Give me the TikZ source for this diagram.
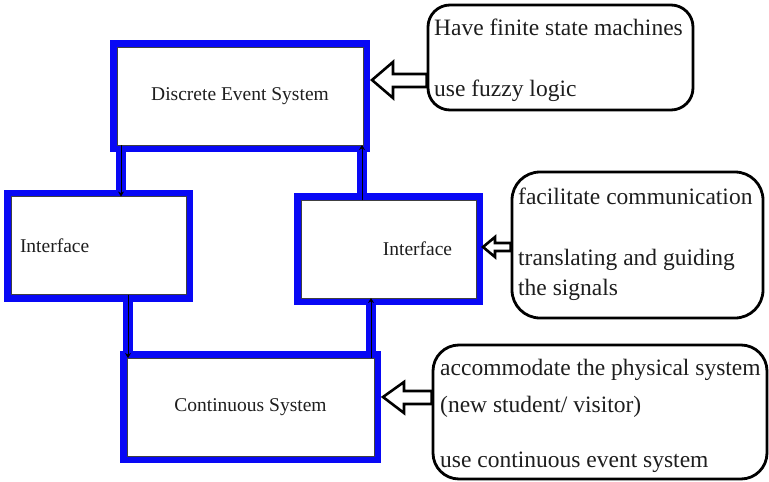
\documentclass[tikz,border=0pt]{standalone}
\usepackage{fontspec}
\setmainfont{Liberation Serif}
\usetikzlibrary{backgrounds,calc,arrows.meta}
\definecolor{frameblue}{RGB}{8,8,245}
\definecolor{inkgray}{RGB}{30,30,30}
\tikzset{
  sysbox/.style={draw=black!75, line width=0.6pt, fill=white, inner sep=0pt,
    outer sep=0pt, minimum height=98pt, text=inkgray,
    font=\fontsize{19.5}{22}\selectfont},
  blueframe/.style={draw=frameblue, line width=7pt},
  bluebar/.style={draw=frameblue, line width=10pt},
  flowline/.style={draw=black, line width=0.8pt, -{Stealth[length=5pt,width=6pt]}},
  callout/.style={draw=black, line width=2.8pt, rounded corners=22pt, fill=white,
    inner sep=0pt},
  notetext/.style={anchor=base west, inner sep=0pt, text=inkgray,
    font=\fontsize{23.5}{26}\selectfont},
  hollow/.style={draw=black, line width=2.6pt, fill=white, line join=miter},
}
\begin{document}
\begin{tikzpicture}[x=1pt, y=-1pt]
\useasboundingbox (0,0) rectangle (769,482);

% system blocks
\node[sysbox, minimum width=246pt] (des)  at (240,96)    {Discrete Event System};
\node[sysbox, minimum width=175pt, text width=157pt, align=left] (lif) at (98.5,245.5) {Interface};
\node[sysbox, minimum width=175pt] (rif)  at (388.5,249) {\hspace*{58pt}Interface};
\node[sysbox, minimum width=247pt] (cont) at (250.5,407) {Continuous System};

% connector positions along the block edges
\coordinate (c1) at ($(des.south west)+(4,0)$);
\coordinate (c2) at ($(lif.south west)+(117,0)$);
\coordinate (c3) at ($(rif.south west)+(70,0)$);
\coordinate (c4) at ($(rif.north west)+(61,0)$);

\begin{scope}[on background layer]
  \foreach \b in {des,lif,rif,cont}
    \draw[blueframe] ($(\b.north west)+(-3.5,-3.5)$) rectangle ($(\b.south east)+(3.5,3.5)$);
  \draw[bluebar] (c1) -- (c1 |- lif.north);
  \draw[bluebar] (c2) -- (c2 |- cont.north);
  \draw[bluebar] (c3) -- (c3 |- cont.north);
  \draw[bluebar] (c4) -- (c4 |- des.south);
\end{scope}

% signal flow
\draw[flowline] (c1) -- (c1 |- lif.north);
\draw[flowline] (c2) -- (c2 |- cont.north);
\draw[flowline] (c3 |- cont.north) -- (c3);
\draw[flowline] (c4) -- (c4 |- des.south);

% annotation boxes
\node[callout, minimum width=265pt, minimum height=105pt] (n1) at (560.5,57.5) {};
\node[callout, minimum width=251pt, minimum height=146pt, rounded corners=28pt] (n2) at (637.5,245) {};
\node[callout, minimum width=334pt, minimum height=134pt, rounded corners=26pt] (n3) at (600,412) {};

\node[notetext] (t1a) at (434,35)  {Have finite state machines};
\node[notetext] (t1b) at (434,96)  {use fuzzy logic};
\node[notetext] (t2a) at (518,204) {facilitate communication};
\node[notetext] (t2b) at (518,265) {translating and guiding};
\node[notetext] (t2c) at (518,295) {the signals};
\node[notetext] (t3a) at (440,375) {accommodate the physical system};
\node[notetext] (t3b) at (440,412) {(new student/ visitor)};
\node[notetext] (t3c) at (440,467) {use continuous event system};

% hollow block arrows from the notes to the blocks
\draw[hollow] (372,80) -- (393,62) -- (393,74) -- (n1.west |- 0,74) -- (n1.west |- 0,87)
  -- (393,87) -- (393,98) -- cycle;
\draw[hollow] (483,247) -- (495,237) -- (495,243) -- (n2.west |- 0,243) -- (n2.west |- 0,251)
  -- (495,251) -- (495,257) -- cycle;
\draw[hollow] (383,397) -- (404,382) -- (404,391) -- (n3.west |- 0,391) -- (n3.west |- 0,404)
  -- (404,404) -- (404,413) -- cycle;
\end{tikzpicture}
\end{document}
